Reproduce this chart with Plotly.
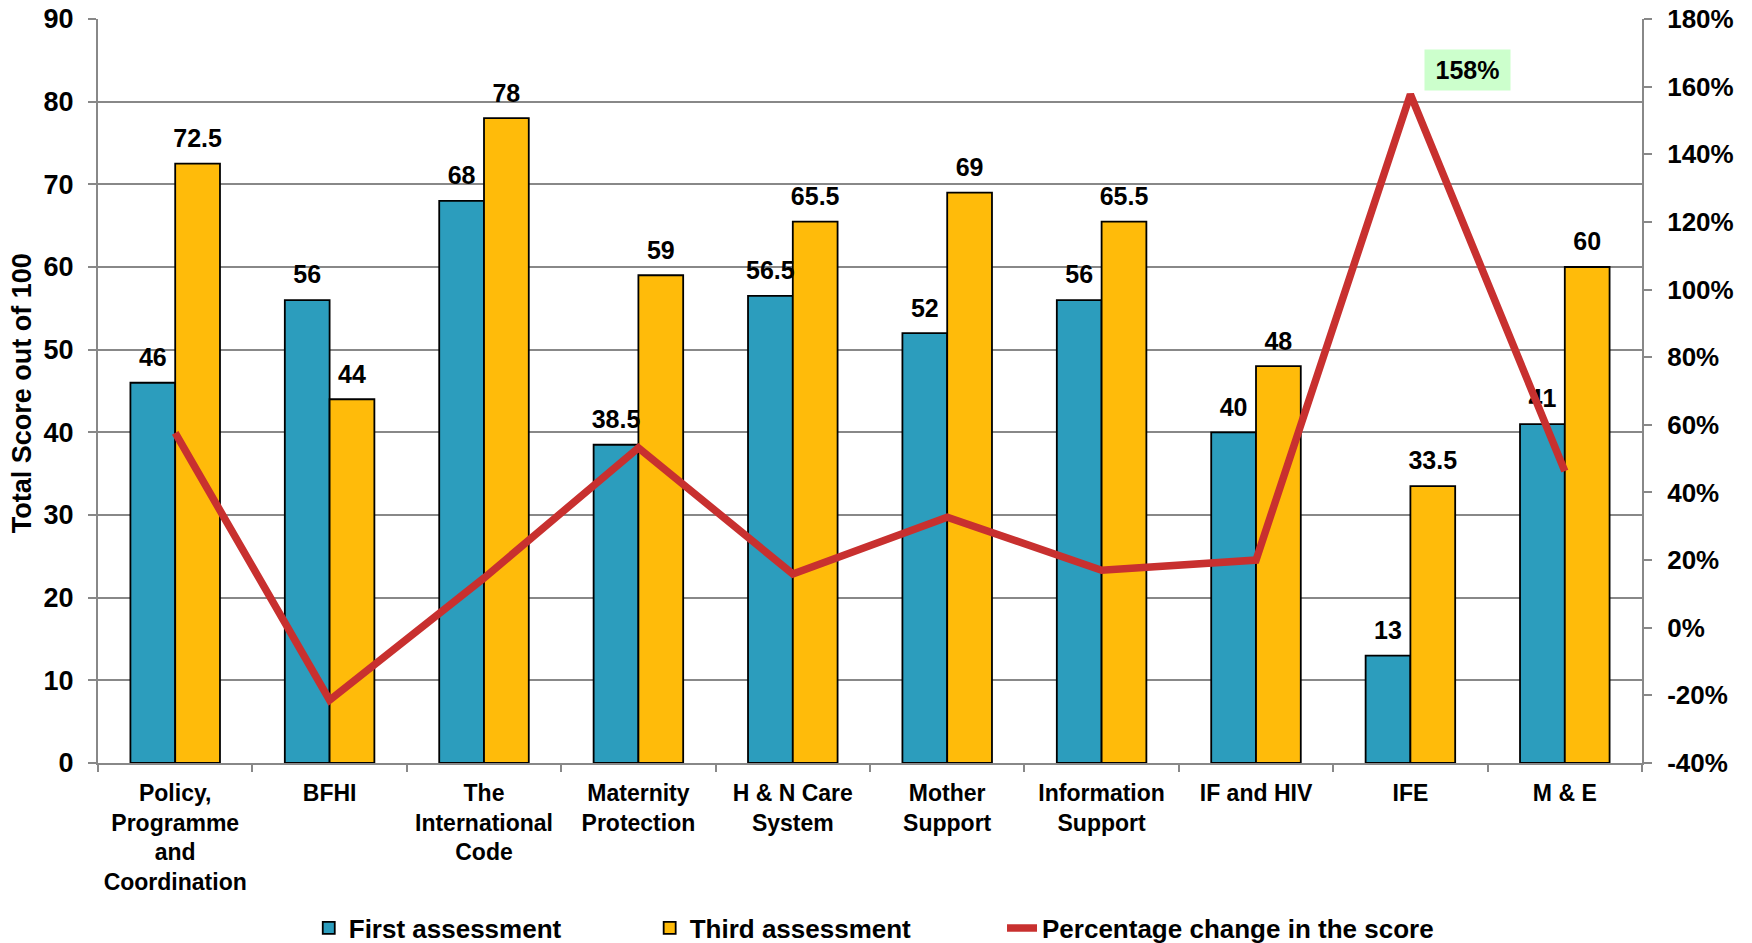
import plotly.graph_objects as go

categories = ["Policy,<br>Programme<br>and<br>Coordination", "BFHI", "The<br>International<br>Code",
              "Maternity<br>Protection", "H & N Care<br>System", "Mother<br>Support",
              "Information<br>Support", "IF and HIV", "IFE", "M & E"]
first_assessment = [46, 56, 68, 38.5, 56.5, 52, 56, 40, 13, 41]
third_assessment = [72.5, 44, 78, 59, 65.5, 69, 65.5, 48, 33.5, 60]
pct_change = [57.6, -21.4, 14.7, 53.2, 15.9, 32.7, 17.0, 20.0, 157.7, 46.3]
pct_tickvals = [-40, -20, 0, 20, 40, 60, 80, 100, 120, 140, 160, 180]
pct_ticktext = ["-40%", "-20%", "0%", "20%", "40%", "60%", "80%", "100%", "120%", "140%", "160%", "180%"]

FONT = "Liberation Sans, Arial, sans-serif"
TEAL = "#2c9dbd"
GOLD = "#ffbb0a"
RED = "#c8302f"

def fmt(v):
    return f"{v:g}"

fig = go.Figure()
fig.add_trace(go.Bar(
    x=categories, y=first_assessment, name="First assessment", legend="legend",
    offsetgroup="first", alignmentgroup="g",
    marker=dict(color=TEAL, line=dict(color="#000000", width=1.8)),
))
fig.add_trace(go.Bar(
    x=categories, y=third_assessment, name="Third assessment", legend="legend2",
    offsetgroup="third", alignmentgroup="g",
    marker=dict(color=GOLD, line=dict(color="#000000", width=1.8)),
))
# value labels, aligned with the bars via grouped scatter mode
for vals, grp in ((first_assessment, "first"), (third_assessment, "third")):
    fig.add_trace(go.Scatter(
        x=categories, y=vals, mode="markers+text", text=[fmt(v) for v in vals],
        textposition="top center", offsetgroup=grp, alignmentgroup="g",
        marker=dict(size=15, color="rgba(0,0,0,0)"),
        textfont=dict(family=FONT, size=25, color="#000000", weight="bold"),
        showlegend=False, hoverinfo="skip", cliponaxis=False,
    ))
fig.add_trace(go.Scatter(
    x=categories, y=pct_change, name="Percentage change in the score", yaxis="y2",
    legend="legend3",
    mode="lines", line=dict(color=RED, width=7.5), cliponaxis=False,
))

fig.add_annotation(
    x=categories[8], y=pct_change[8], yref="y2", xref="x",
    text="<b>158%</b>", showarrow=False, xshift=57, yshift=24,
    bgcolor="#ccffcc", font=dict(family=FONT, size=25, color="#000000"),
    width=75, height=30, borderpad=5,
)
fig.add_annotation(
    x=-0.0492, y=0.497, xref="paper", yref="paper", textangle=-90,
    xanchor="center", yanchor="middle",
    text="<b>Total Score out of 100</b>", showarrow=False,
    font=dict(family=FONT, size=27, color="#000000"),
)

legend_font = dict(family=FONT, size=26, color="#000000", weight="bold")
leg_common = dict(orientation="h", yref="container", y=0.0159, yanchor="middle",
                  xanchor="left", font=legend_font, bgcolor="rgba(0,0,0,0)")

fig.update_layout(
    width=1752, height=943,
    paper_bgcolor="white", plot_bgcolor="white",
    margin=dict(l=98, r=110, t=19, b=180),
    barmode="group", bargap=0.42, bargroupgap=0,
    scattermode="group", scattergap=0.42,
    font=dict(family=FONT, color="#000000"),
    showlegend=True,
    legend=dict(x=0.1365, **leg_common),
    legend2=dict(x=0.3573, **leg_common),
    legend3=dict(x=0.5855, **leg_common),
    xaxis=dict(
        automargin=False,
        showline=True, linecolor="#888888", linewidth=2,
        ticks="outside", tickson="boundaries", ticklen=7, tickcolor="#888888", tickwidth=2,
        ticklabelstandoff=8,
        tickfont=dict(family=FONT, size=23, color="#000000", weight="bold"),
        showgrid=False,
    ),
    yaxis=dict(
        automargin=False,
        range=[0, 90], dtick=10, showgrid=True, gridcolor="#888888", gridwidth=2,
        showline=True, linecolor="#888888", linewidth=2,
        ticks="outside", ticklen=8, tickcolor="#888888", tickwidth=2,
        ticklabelstandoff=9, ticklabeloverflow="allow",
        tickfont=dict(family=FONT, size=27, color="#000000", weight="bold"),
        zeroline=False,
    ),
    yaxis2=dict(
        automargin=False,
        range=[-40, 180], overlaying="y", side="right",
        tickmode="array", tickvals=pct_tickvals, ticktext=pct_ticktext,
        showgrid=False, showline=True, linecolor="#888888", linewidth=2,
        ticks="outside", ticklen=8, tickcolor="#888888", tickwidth=2,
        ticklabelstandoff=10, ticklabeloverflow="allow",
        zeroline=False,
        tickfont=dict(family=FONT, size=26, color="#000000", weight="bold"),
    ),
)

fig.write_html("out.html", config={"displayModeBar": False},
               post_script="document.body.style.margin='0';")
